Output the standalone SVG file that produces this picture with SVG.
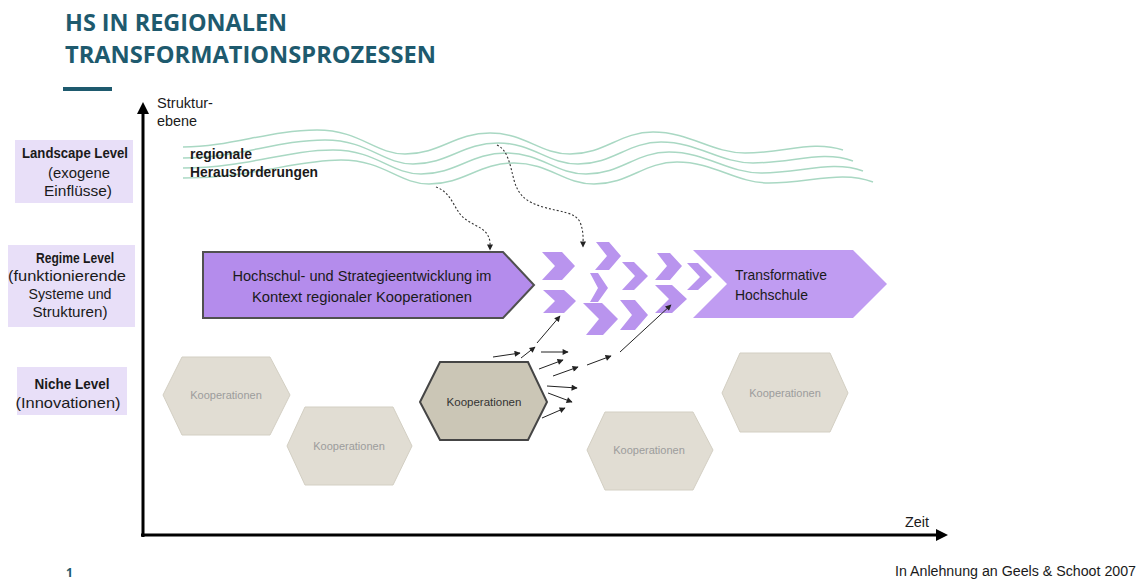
<svg xmlns="http://www.w3.org/2000/svg" width="1141" height="581" viewBox="0 0 1141 581">
  <style>
    .title { font-family: "Open Sans", "Liberation Sans", sans-serif; font-weight: bold; fill: #1e5a6e; }
    .txt { font-family: "Liberation Sans", Arial, sans-serif; fill: #1a1a1a; }
    .lvl { fill: #e8dff8; }
    .wave { fill: none; stroke: #a9d8c3; stroke-width: 1.5; }
    .hexL { fill: #e1ddd3; stroke: #d3cfc3; stroke-width: 1; }
    .hexLt { font-family: "Liberation Sans", Arial, sans-serif; font-size: 11px; fill: #9c9c9c; text-anchor: middle; }
    .chev { fill: #b994ee; }
    .dash { fill: none; stroke: #333; stroke-width: 1.1; stroke-dasharray: 2 2; }
    .arr { fill: none; stroke: #222; stroke-width: 1; }
  </style>
  <defs>
    <marker id="ah" viewBox="0 0 10 10" refX="9" refY="5" markerWidth="7" markerHeight="6" markerUnits="userSpaceOnUse" orient="auto">
      <path d="M0,0 L10,5 L0,10 Z" fill="#222"/>
    </marker>
    <marker id="axh" viewBox="0 0 10 10" refX="5" refY="5" markerWidth="12" markerHeight="14" markerUnits="userSpaceOnUse" orient="auto">
      <path d="M0,0 L10,5 L0,10 Z" fill="#000"/>
    </marker>
  </defs>

  <rect width="1141" height="581" fill="#ffffff"/>

  <!-- heading -->
  <g id="heading">
    <text class="title" x="65" y="31" font-size="23" textLength="222" lengthAdjust="spacingAndGlyphs">HS IN REGIONALEN</text>
    <text class="title" x="65" y="63" font-size="23" textLength="371" lengthAdjust="spacingAndGlyphs">TRANSFORMATIONSPROZESSEN</text>
    <rect x="63" y="87" width="49" height="4" fill="#1e5a6e"/>
  </g>

  <!-- axes -->
  <g id="axes">
    <line x1="143" y1="537" x2="143" y2="108" stroke="#000" stroke-width="3" marker-end="url(#axh)"/>
    <line x1="141" y1="535" x2="942" y2="535" stroke="#000" stroke-width="3" marker-end="url(#axh)"/>
    <text class="txt" x="157" y="108" font-size="14" fill="#333" textLength="56" lengthAdjust="spacingAndGlyphs">Struktur-</text>
    <text class="txt" x="157" y="126" font-size="14" fill="#333" textLength="40" lengthAdjust="spacingAndGlyphs">ebene</text>
    <text class="txt" x="905" y="527" font-size="14" fill="#333" textLength="24" lengthAdjust="spacingAndGlyphs">Zeit</text>
  </g>

  <!-- level labels -->
  <g id="landscape-level">
    <rect class="lvl" x="15" y="140" width="118" height="63"/>
    <text class="txt" x="75" y="158" font-size="15" font-weight="bold" text-anchor="middle" textLength="106" lengthAdjust="spacingAndGlyphs">Landscape Level</text>
    <text class="txt" x="79" y="178" font-size="15" text-anchor="middle" textLength="62" lengthAdjust="spacingAndGlyphs">(exogene</text>
    <text class="txt" x="78" y="196" font-size="15" text-anchor="middle" textLength="68" lengthAdjust="spacingAndGlyphs">Einflüsse)</text>
  </g>
  <g id="regime-level">
    <rect class="lvl" x="8" y="245" width="127" height="82"/>
    <text class="txt" x="75" y="263" font-size="15" font-weight="bold" text-anchor="middle" textLength="78" lengthAdjust="spacingAndGlyphs">Regime Level</text>
    <text class="txt" x="67" y="281" font-size="15" text-anchor="middle" textLength="118" lengthAdjust="spacingAndGlyphs">(funktionierende</text>
    <text class="txt" x="70" y="299" font-size="15" text-anchor="middle" textLength="83" lengthAdjust="spacingAndGlyphs">Systeme und</text>
    <text class="txt" x="70" y="317" font-size="15" text-anchor="middle" textLength="75" lengthAdjust="spacingAndGlyphs">Strukturen)</text>
  </g>
  <g id="niche-level">
    <rect class="lvl" x="17" y="367" width="110" height="48"/>
    <text class="txt" x="72" y="389" font-size="15" font-weight="bold" text-anchor="middle" textLength="75" lengthAdjust="spacingAndGlyphs">Niche Level</text>
    <text class="txt" x="68" y="408" font-size="15" text-anchor="middle" textLength="105" lengthAdjust="spacingAndGlyphs">(Innovationen)</text>
  </g>

  <!-- landscape waves -->
  <g id="waves">
    <path class="wave" d="M183,147 C230,147 270,130 317,130 C360,130 375,154 405,154 C440,154 455,133 490,133 C525,133 540,154 570,154 C605,154 620,132 653,132 C690,132 712,153 745,153 C785,153 812,140 843,150"/>
    <path class="wave" d="M183,158 C238,158 278,140 325,140 C368,140 383,164 413,164 C448,164 463,143 498,143 C533,143 548,164 578,164 C613,164 628,142 661,142 C698,142 720,163 753,163 C793,163 822,150 853,161"/>
    <path class="wave" d="M183,168 C246,168 286,150 333,150 C376,150 391,174 421,174 C456,174 471,153 506,153 C541,153 556,174 586,174 C621,174 636,152 669,152 C706,152 728,173 761,173 C801,173 832,160 863,171"/>
    <path class="wave" d="M183,178 C254,178 294,160 341,160 C384,160 399,184 429,184 C464,184 479,163 514,163 C549,163 564,184 594,184 C629,184 644,162 677,162 C714,162 736,183 769,183 C809,183 842,170 873,182"/>
    <text class="txt" x="190" y="159" font-size="15" font-weight="bold" fill="#111" textLength="62" lengthAdjust="spacingAndGlyphs">regionale</text>
    <text class="txt" x="190" y="177" font-size="15" font-weight="bold" fill="#111" textLength="128" lengthAdjust="spacingAndGlyphs">Herausforderungen</text>
  </g>

  <!-- regime arrows -->
  <g id="regime-current">
    <polygon points="203,252 503,252 534,285 503,318 203,318" fill="#b48cec" stroke="#505050" stroke-width="2"/>
    <text class="txt" x="362" y="281" font-size="15" fill="#2a2140" text-anchor="middle" textLength="259" lengthAdjust="spacingAndGlyphs">Hochschul- und Strategieentwicklung im</text>
    <text class="txt" x="362" y="302" font-size="15" fill="#2a2140" text-anchor="middle" textLength="220" lengthAdjust="spacingAndGlyphs">Kontext regionaler Kooperationen</text>
  </g>

  <g id="transition-chevrons">
    <polygon class="chev" points="542,252 562,252 575,266 562,280 542,280 555,266"/>
    <polygon class="chev" points="543,290 564,290 576,301 564,313 543,313 555,301"/>
    <polygon class="chev" points="596,242 609,242 621,256 609,270 595,270 607,256"/>
    <polygon class="chev" points="590,273 598,273 608,288 598,302 590,302 598,288"/>
    <polygon class="chev" points="622,262 634,262 648,276 634,290 622,290 635,276"/>
    <polygon class="chev" points="583,303 602,303 618,319 603,335 586,335 599,319"/>
    <polygon class="chev" points="620,300 635,300 648,315 635,330 620,330 632,315"/>
    <polygon class="chev" points="657,253 670,253 682,266 670,280 655,280 667,266"/>
    <polygon class="chev" points="655,285 672,285 687,299 672,313 655,313 669,299"/>
    <polygon class="chev" points="687,263 698,263 712,277 698,290 687,290 700,277"/>
  </g>

  <g id="regime-target">
    <polygon points="693,250 853,250 887,284 853,318 693,318 727,284" fill="#c09cf2"/>
    <text class="txt" x="735" y="280" font-size="15" fill="#2a2140" textLength="92" lengthAdjust="spacingAndGlyphs">Transformative</text>
    <text class="txt" x="735" y="300" font-size="15" fill="#2a2140" textLength="73" lengthAdjust="spacingAndGlyphs">Hochschule</text>
  </g>

  <!-- niche cooperations -->
  <g id="niche-1">
    <polygon class="hexL" points="163,395 182,357 270,357 290,395 270,435 182,435"/>
    <text class="hexLt" x="226" y="399">Kooperationen</text>
  </g>
  <g id="niche-2">
    <polygon class="hexL" points="287,446 305,407 393,407 412,446 393,485 305,485"/>
    <text class="hexLt" x="349" y="450">Kooperationen</text>
  </g>
  <g id="niche-active">
    <polygon points="420,402 440,362 528,362 547,402 528,440 440,440" fill="#cbc6b6" stroke="#454545" stroke-width="2"/>
    <text x="484" y="406" font-family="Liberation Sans, Arial, sans-serif" font-size="11.5" fill="#333" text-anchor="middle">Kooperationen</text>
  </g>
  <g id="niche-3">
    <polygon class="hexL" points="587,450 605,412 693,412 713,450 693,490 605,490"/>
    <text class="hexLt" x="649" y="454">Kooperationen</text>
  </g>
  <g id="niche-4">
    <polygon class="hexL" points="722,393 740,353 830,353 848,393 830,432 740,432"/>
    <text class="hexLt" x="785" y="397">Kooperationen</text>
  </g>

  <!-- connectors -->
  <g id="connectors">
    <path class="dash" d="M436,187 C450,192 453,205 460,214 C468,224 482,226 487,234 C491,240 490,245 490,250" marker-end="url(#ah)"/>
    <path class="dash" d="M497,145 C508,150 510,165 514,180 C518,195 526,202 543,207 C560,212 575,212 580,222 C584,232 583,240 583,247" marker-end="url(#ah)"/>
    <line class="arr" x1="493" y1="357" x2="520" y2="353" marker-end="url(#ah)"/>
    <line class="arr" x1="521" y1="358" x2="535" y2="347" marker-end="url(#ah)"/>
    <line class="arr" x1="537" y1="343" x2="560" y2="316" marker-end="url(#ah)"/>
    <line class="arr" x1="541" y1="352" x2="568" y2="352" marker-end="url(#ah)"/>
    <line class="arr" x1="539" y1="369" x2="563" y2="360" marker-end="url(#ah)"/>
    <line class="arr" x1="553" y1="376" x2="578" y2="367" marker-end="url(#ah)"/>
    <line class="arr" x1="547" y1="386" x2="577" y2="388" marker-end="url(#ah)"/>
    <line class="arr" x1="548" y1="393" x2="572" y2="402" marker-end="url(#ah)"/>
    <line class="arr" x1="542" y1="418" x2="565" y2="408" marker-end="url(#ah)"/>
    <line class="arr" x1="587" y1="365" x2="611" y2="356" marker-end="url(#ah)"/>
    <line class="arr" x1="620" y1="352" x2="671" y2="305" marker-end="url(#ah)"/>
  </g>

  <!-- footer -->
  <g id="footer">
    <text x="66" y="577" font-family="Open Sans, Liberation Sans, sans-serif" font-size="12" font-weight="bold" fill="#1e5a6e">1</text>
    <text class="txt" x="895" y="576" font-size="14" fill="#222" textLength="241" lengthAdjust="spacingAndGlyphs">In Anlehnung an Geels &amp; Schoot 2007</text>
  </g>
</svg>
